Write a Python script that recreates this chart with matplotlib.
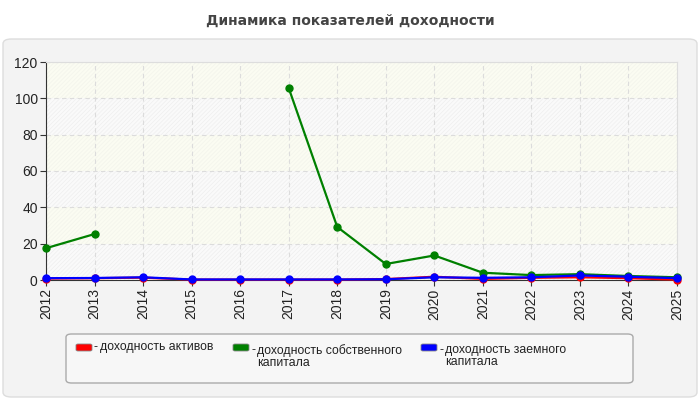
import numpy as np
import matplotlib
matplotlib.use("Agg")
import matplotlib.pyplot as plt
from matplotlib.patches import FancyBboxPatch

plt.rcParams['font.family'] = ['Liberation Sans', 'DejaVu Sans']
plt.rcParams['hatch.linewidth'] = 0.6

years = [2012, 2013, 2014, 2015, 2016, 2017, 2018, 2019, 2020, 2021, 2022, 2023, 2024, 2025]
roa = [0.8, 1.0, 1.3, 0.2, 0.2, 0.2, 0.2, 0.5, 1.8, 0.6, 1.2, 1.5, 1.0, 0.2]
roe = [17.5, 25.3, np.nan, np.nan, np.nan, 105.7, 29.2, 8.8, 13.5, 4.0, 2.7, 3.2, 2.2, 1.5]
rdc = [1.0, 1.1, 1.5, 0.3, 0.3, 0.3, 0.3, 0.4, 1.5, 1.2, 1.5, 2.5, 1.8, 1.0]

series_names = ["доходность активов", "доходность собственного\nкапитала", "доходность заемного\nкапитала"]
series_colors = ["#ff0000", "#008000", "#0000ff"]
title = "Динамика показателей доходности"
yticks = [0, 20, 40, 60, 80, 100, 120]

fig = plt.figure(figsize=(7, 4), dpi=100, facecolor="white")

# outer panel
panel = FancyBboxPatch((3/700, 3/400), 694/700, 358/400,
                       boxstyle="round,pad=0,rounding_size=0.012",
                       transform=fig.transFigure, facecolor="#f3f3f3",
                       edgecolor="#dddddd", linewidth=1, zorder=-5)
fig.patches.append(panel)

fig.text(0.5, 0.948, title, ha="center", va="center", fontsize=10,
         fontweight="bold", color="#444444", family=['DejaVu Sans'])

ax = fig.add_axes([46/700, 120/400, 631/700, 218/400])
ax.set_zorder(1)
ax.set_facecolor("#fbfbf6")

# alternating bands
for i in range(len(yticks) - 1):
    lo, hi = yticks[i], yticks[i + 1]
    if i % 2 == 0:
        ax.axhspan(lo, hi, facecolor="#fafafa", edgecolor="#f0f0f0", hatch="////////", linewidth=0, zorder=0)
    else:
        ax.axhspan(lo, hi, facecolor="#fbfcf2", edgecolor="#f4f5ec", hatch="////////", linewidth=0, zorder=0)

for vals, col in zip([roa, roe, rdc], series_colors):
    ax.plot(years, vals, color=col, linewidth=1.6, marker="o", markersize=5,
            zorder=3, clip_on=False)

ax.set_xlim(years[0], years[-1])
ax.set_ylim(0, 120)
ax.set_xticks(years)
ax.set_xticklabels([str(y) for y in years], rotation=90, fontsize=10, color="#222222")
ax.set_yticks(yticks)
ax.set_yticklabels([str(v) for v in yticks], fontsize=10, color="#222222")
ax.grid(True, color="#dcdcdc", linestyle=(0, (4, 3)), linewidth=0.8, zorder=1)
ax.set_axisbelow(True)

for s in ["top", "right"]:
    ax.spines[s].set_color("#dddddd")
for s in ["left", "bottom"]:
    ax.spines[s].set_color("#333333")
ax.tick_params(axis="both", direction="out", length=4, color="#333333", pad=2)

# legend box
leg = FancyBboxPatch((66/700, 17/400), 567/700, 49/400,
                     boxstyle="round,pad=0,rounding_size=0.008",
                     transform=fig.transFigure, facecolor="#f7f7f7",
                     edgecolor="#aaaaaa", linewidth=1, zorder=2)
fig.patches.append(leg)
xs_patch = [76, 233, 421]
for x0, name, col in zip(xs_patch, series_names, series_colors):
    p = FancyBboxPatch((x0/700, (400-351)/400), 16/700, 7/400,
                       boxstyle="round,pad=0,rounding_size=0.003",
                       transform=fig.transFigure, facecolor=col,
                       edgecolor="#888888", linewidth=0.6, zorder=3)
    fig.patches.append(p)
    multi = "\n" in name
    top = 344 if multi else 341
    fig.text((x0 + 18)/700, (400-top)/400, "-", ha="left", va="top",
             fontsize=8.8, color="#222222", zorder=3)
    fig.text((x0 + 24)/700, (400-top)/400, name, ha="left", va="top",
             fontsize=8.8, color="#222222", linespacing=1.05, zorder=3)

fig.savefig("out.png", dpi=100, facecolor="white")
